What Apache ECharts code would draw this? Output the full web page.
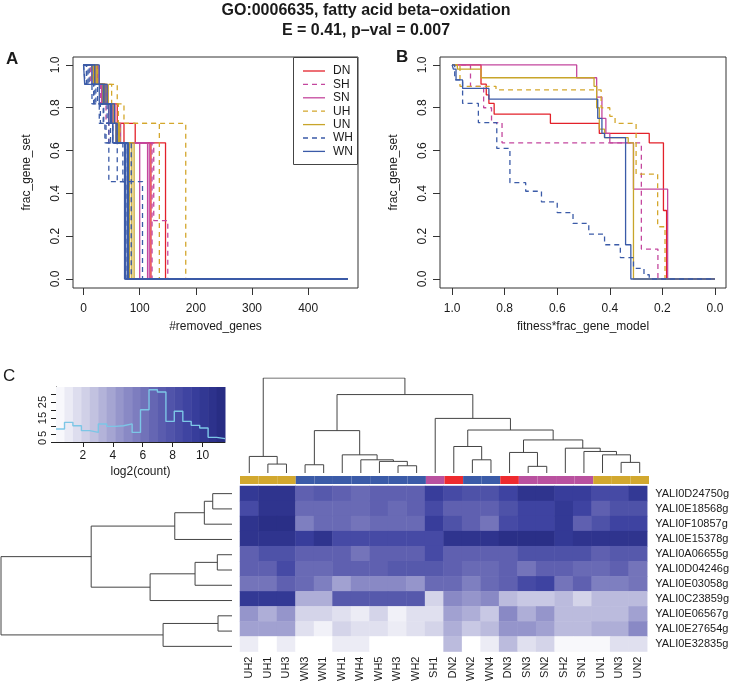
<!DOCTYPE html>
<html>
<head>
<meta charset="utf-8">
<script src="https://cdn.jsdelivr.net/npm/echarts@6/dist/echarts.min.js"></script>
<style>
  html, body { margin: 0; padding: 0; background: #fff; }
  #chart { width: 732px; height: 684px; }
</style>
</head>
<body>
<div id="chart"></div>
<script>
// --- panel A: #removed_genes vs frac_gene_set, one step line per replicate ---
const aDN = [
  [[0,1],[20,0.909],[35,0.818],[55,0.727],[92,0.636],[146,0],[470,0]],
  [[0,1],[25,0.909],[40,0.818],[60,0.727],[72,0.636],[120,0],[470,0]]
];
const aSH = [
  [[0,1],[12,0.909],[30,0.818],[40,0.727],[45,0.636],[125,0.273],[150,0],[470,0]],
  [[0,1],[18,0.909],[35,0.818],[50,0.727],[60,0.636],[122,0],[470,0]]
];
const aSN = [
  [[0,1],[15,0.909],[32,0.818],[45,0.727],[58,0.636],[100,0],[470,0]],
  [[0,1],[22,0.909],[38,0.818],[52,0.727],[62,0.636],[114,0],[470,0]],
  [[0,1],[26,0.909],[42,0.818],[56,0.727],[66,0.636],[117,0],[470,0]]
];
const aUH = [
  [[0,1],[25,0.909],[60,0.818],[72,0.727],[182,0],[470,0]],
  [[0,1],[20,0.909],[50,0.818],[62,0.727],[135,0],[470,0]],
  [[0,1],[15,0.909],[40,0.818],[55,0.727],[65,0.636],[85,0],[470,0]]
];
const aUN = [
  [[0,1],[22,0.909],[38,0.818],[50,0.727],[62,0.636],[82,0],[470,0]],
  [[0,1],[18,0.909],[34,0.818],[48,0.727],[58,0.636],[86,0],[470,0]],
  [[0,1],[24,0.909],[44,0.818],[54,0.727],[64,0.636],[90,0],[470,0]]
];
const aWH = [
  [[0,1],[5,0.909],[18,0.818],[30,0.727],[38,0.636],[45,0.455],[75,0],[470,0]],
  [[0,1],[8,0.909],[22,0.818],[35,0.727],[45,0.636],[60,0.455],[80,0],[470,0]],
  [[0,1],[3,0.909],[15,0.818],[28,0.727],[40,0.636],[78,0],[470,0]],
  [[0,1],[10,0.909],[25,0.818],[42,0.727],[52,0.636],[85,0],[470,0]],
  [[0,1],[6,0.909],[20,0.818],[36,0.727],[48,0.636],[70,0.455],[105,0],[470,0]]
];
const aWN = [
  [[0,1],[2,0.909],[28,0.818],[45,0.727],[52,0.636],[73,0],[470,0]],
  [[0,1],[28,0.909],[42,0.818],[55,0.727],[60,0.636],[75,0],[470,0]],
  [[0,1],[15,0.909],[35,0.818],[48,0.727],[52,0.636],[78,0],[470,0]],
  [[0,1],[20,0.909],[38,0.818],[50,0.727],[58,0.636],[80,0],[470,0]]
];

// --- panel B: fitness*frac_gene_model vs frac_gene_set ---
const bDN = [[1,1],[0.89,0.91],[0.87,0.86],[0.86,0.82],[0.84,0.77],[0.626,0.727],[0.44,0.68],[0.25,0.636],[0.196,0.32],[0.184,0],[0,0]];
const bSH = [[1,1],[0.93,0.9],[0.88,0.8],[0.85,0.73],[0.81,0.636],[0.28,0.14],[0.217,0],[0,0]];
const bSN = [[1,1],[0.526,0.94],[0.45,0.85],[0.43,0.75],[0.415,0.68],[0.40,0.636],[0.31,0.42],[0.18,0],[0,0]];
const bUH = [[1,1],[0.97,0.9],[0.833,0.883],[0.433,0.8],[0.40,0.76],[0.38,0.727],[0.30,0.49],[0.218,0.244],[0.19,0],[0,0]];
const bUN = [[1,1],[0.98,0.98],[0.89,0.94],[0.46,0.9],[0.45,0.8],[0.44,0.7],[0.42,0.66],[0.33,0.636],[0.31,0],[0,0]];
const bWH = [[1,1],[0.99,0.93],[0.96,0.82],[0.90,0.73],[0.83,0.61],[0.78,0.45],[0.72,0.41],[0.66,0.36],[0.60,0.31],[0.54,0.26],[0.48,0.21],[0.42,0.16],[0.36,0.10],[0.31,0.05],[0.27,0.02],[0.25,0],[0,0]];
const bWN = [[1,1],[0.995,0.98],[0.985,0.93],[0.96,0.89],[0.86,0.84],[0.446,0.75],[0.43,0.68],[0.42,0.66],[0.34,0.16],[0.32,0],[0,0]];

const conditions = ['DN', 'SH', 'SN', 'UH', 'UN', 'WH', 'WN'];
const linesA = { DN: aDN, SH: aSH, SN: aSN, UH: aUH, UN: aUN, WH: aWH, WN: aWN };
const linesB = { DN: bDN, SH: bSH, SN: bSN, UH: bUH, UN: bUN, WH: bWH, WN: bWN };
const fracTicks = [0, 0.2, 0.4, 0.6, 0.8, 1.0];
const removedTicks = [0, 100, 200, 300, 400];

// --- panel C: heatmap ---
const colNames = ['UH2','UH1','UH3','WN3','WN1','WH1','WH4','WH5','WH3','WH2','SH1','DN2','WN2','WN4','DN3','SN3','SN2','SH2','SN1','UN1','UN3','UN2'];
const rowNames = ['YALI0D24750g','YALI0E18568g','YALI0F10857g','YALI0E15378g','YALI0A06655g','YALI0D04246g','YALI0E03058g','YALI0C23859g','YALI0E06567g','YALI0E27654g','YALI0E32835g'];
const heatValues = [
  [10,10.5,10.5,7,7.5,7,6.5,7,7,7,9.5,8.5,8,8,9,10.5,10.5,9.5,9.5,8.5,8.5,10],
  [8.5,10.5,10.5,6.5,6.5,6.5,6.5,7,6.5,7,8.5,7,7,7,8,9,9,10,9,7,8,8],
  [10.5,11,11,5.5,6.5,6.5,6,6.5,6.5,6.5,9.5,8,7,6,8.5,9,9,10,7,8,9,9],
  [10.5,10.5,10.5,9.5,10.5,8.5,8.5,8.5,8.5,8.5,8.5,10.5,10.5,10.5,11,11,11,10,10.5,10.5,10.5,10.5],
  [7,8,8,7,7,7,6,7,7,7,8.5,7,7,7,7,8,8,8,8,7,7.5,7.5],
  [7,7,8.5,6.5,6.5,7,7,7,7.5,7.5,7.5,7,6.5,6.5,7,6,7,7,6.5,6.5,7,6],
  [6,6,7,6.5,5.5,4,5,5,5,4.5,6.5,6.5,5.5,6.5,7,8.5,9,6,7,5.5,5.5,6],
  [10,10,10,3.5,3.5,7.5,7.5,7.5,7.5,7.5,2,5,4.5,5,3,2.5,2.5,3,2,3,3,3],
  [4.5,3.5,4.5,2,2,1.5,1,2,0.8,1.5,1.5,4,3.5,2.5,5,3.5,4.5,3,3,3,3,4],
  [4,4,4,1.5,0.8,2,1.5,1.5,1,1.5,2,3.5,2.5,3,4.5,4.5,4,3,3,3.5,3.5,5],
  [1,0.2,1,0.2,0.2,1,1,0.2,0.2,0.2,0.2,3,0.2,1,3,1.5,2,0.5,0.5,0.5,1.5,1.5]
];
// dendrogram merges: [a, b, height]; a/b >= 0 is a leaf, negative is -(merge index + 1)
const colMerges = [
  [1,2,9],[0,-1,16.7],[3,4,8.3],[8,9,7.3],[7,-4,11.7],[6,-5,13.3],[5,-6,18.3],[-3,-7,42.7],
  [12,13,13.3],[11,-9,26.7],[15,16,6.7],[14,-11,20.7],[20,21,10.7],[19,-13,18.3],[18,-14,21.7],
  [17,-15,25],[-12,-16,33.3],[-10,-17,43.3],[10,-18,55],[-8,-19,79],[-2,-20,95.7]
];
const rowMerges = [
  [0,1,19.3],[2,-1,27.7],[3,-2,57.3],[4,5,14.7],[6,-4,37],[7,-5,82],[-3,-6,141],
  [8,9,14],[10,-8,69],[-7,-9,231.3]
];
// colour key: bin breaks (log2 count) and histogram counts
const keyBreaks = [0.2,0.77,1.33,1.9,2.46,3.03,3.59,4.16,4.72,5.29,5.85,6.42,6.98,7.55,8.11,8.68,9.24,9.81,10.37,10.94,11.5];
const keyCounts = [8.1,12.3,10.2,7.1,6.0,11.3,9.8,10.2,11.3,6.0,20.2,32.7,31.3,12.9,19.2,12.9,10.4,8.75,2.9,2.1];
const keyXTicks = [2, 4, 6, 8, 10];
const keyYTicks = [0, 5, 10, 15, 20, 25, 30];
const keyYLabels = [0, 5, 15, 25];

// --- styles ---
const FONT = '"Liberation Sans", Arial, Helvetica, sans-serif';
const INK = '#1a1a1a';
const condColor = { DN: '#e3212a', SH: '#c4479e', SN: '#c4479e', UH: '#d4a72c', UN: '#c8a52a', WH: '#3b5ba8', WN: '#3b5ba8' };
const groupColor = { U: '#d2a82f', W: '#3b5ba8', S: '#b9519f', D: '#ee2a2f' };
const heatStops = ['#ffffff', '#c9c9e4', '#8f8fc8', '#5f60b0', '#3a409f', '#262a80'];
const heatMin = 0.2, heatMax = 11.5;
const isDashed = c => c[1] === 'H';

function dendroSegments(merges) {
  const pos = [];
  const node = k => (k >= 0 ? [k + 0.5, 0] : pos[-k - 1]);
  const segs = [];
  merges.forEach(([a, b, h]) => {
    const pa = node(a), pb = node(b);
    segs.push([[pa[0], pa[1]], [pa[0], h], [pb[0], h], [pb[0], pb[1]]]);
    pos.push([(pa[0] + pb[0]) / 2, h]);
  });
  return segs;
}

const fracAxis = (gi) => ({
  type: 'value', gridIndex: gi, min: -0.042, max: 1.037,
  name: 'frac_gene_set', nameLocation: 'middle', nameGap: 40,
  nameTextStyle: { fontFamily: FONT, fontSize: 12, color: INK },
  axisLine: { show: false, onZero: false }, splitLine: { show: false },
  axisTick: { show: true, inside: false, length: 7, customValues: fracTicks, lineStyle: { color: '#333' } },
  axisLabel: { customValues: fracTicks, rotate: 90, margin: 11, fontFamily: FONT, fontSize: 12, color: INK,
               formatter: v => v.toFixed(1) }
});

const series = [];
conditions.forEach(c => {
  linesA[c].forEach(pts => series.push({
    type: 'line', name: c, xAxisIndex: 0, yAxisIndex: 0, data: pts, step: 'end',
    symbol: 'none', silent: true, color: condColor[c],
    lineStyle: { width: 1.3, color: condColor[c], type: isDashed(c) ? [5, 4] : 'solid' }
  }));
});
conditions.forEach(c => {
  series.push({
    type: 'line', name: c, xAxisIndex: 1, yAxisIndex: 1, data: linesB[c], step: 'end',
    symbol: 'none', silent: true, color: condColor[c],
    lineStyle: { width: 1.3, color: condColor[c], type: isDashed(c) ? [5, 4] : 'solid' }
  });
});

// colour key bins + histogram
series.push({
  type: 'custom', xAxisIndex: 2, yAxisIndex: 2, silent: true,
  data: keyBreaks.slice(0, -1).map((b, i) => [b, keyBreaks[i + 1]]),
  renderItem: (params, api) => {
    const p0 = api.coord([api.value(0), 34.4]);
    const p1 = api.coord([api.value(1), 0]);
    const mid = (api.value(0) + api.value(1)) / 2;
    const t = (mid - heatMin) / (heatMax - heatMin);
    return { type: 'rect', shape: { x: p0[0], y: p0[1], width: p1[0] - p0[0] + 0.5, height: p1[1] - p0[1] },
             style: { fill: echarts.color.lerp(t, heatStops) } };
  }
});
series.push({
  type: 'line', xAxisIndex: 2, yAxisIndex: 2, step: 'end', symbol: 'none', silent: true,
  data: keyBreaks.map((b, i) => [b, keyCounts[Math.min(i, keyCounts.length - 1)]]),
  lineStyle: { color: '#7cc6e6', width: 1.4 }
});

// dendrograms
series.push({
  type: 'lines', coordinateSystem: 'cartesian2d', xAxisIndex: 3, yAxisIndex: 3, polyline: true, silent: true,
  data: dendroSegments(colMerges).map(s => ({ coords: s })),
  lineStyle: { color: '#444', width: 1, opacity: 1 }
});
series.push({
  type: 'lines', coordinateSystem: 'cartesian2d', xAxisIndex: 4, yAxisIndex: 4, polyline: true, silent: true,
  data: dendroSegments(rowMerges).map(s => ({ coords: s.map(([p, h]) => [h, p]) })),
  lineStyle: { color: '#444', width: 1, opacity: 1 }
});

// heatmap
const heatIndex = series.length;
const heatData = [];
heatValues.forEach((row, r) => row.forEach((v, c) => heatData.push([c, r, v])));
series.push({
  type: 'heatmap', xAxisIndex: 5, yAxisIndex: 5, data: heatData, silent: true,
  emphasis: { disabled: true }
});

// column side colour bar
series.push({
  type: 'bar', xAxisIndex: 6, yAxisIndex: 6, barWidth: '100%', silent: true,
  data: colNames.map(n => ({ value: 1, itemStyle: { color: groupColor[n[0]] } }))
});

// legend of panel A (R-style boxed legend)
const legendGraphics = [
  { type: 'rect', shape: { x: 293.5, y: 57.5, width: 64, height: 107 }, style: { fill: '#fff', stroke: '#444', lineWidth: 1 }, silent: true, z: 50 }
];
conditions.forEach((c, i) => {
  const y = 71 + i * 13.4;
  legendGraphics.push({ type: 'line', shape: { x1: 303, y1: y, x2: 325, y2: y }, silent: true, z: 51,
    style: { stroke: condColor[c], lineWidth: 1.3, lineDash: isDashed(c) ? [5, 4] : null } });
  legendGraphics.push({ type: 'text', x: 333, y: y, silent: true, z: 51,
    style: { text: c, fontFamily: FONT, fontSize: 12, fill: INK, verticalAlign: 'middle' } });
});

const hidden = (gi, extra) => Object.assign({ gridIndex: gi, show: false, splitLine: { show: false } }, extra);

const option = {
  animation: false,
  backgroundColor: '#fff',
  textStyle: { fontFamily: FONT },
  title: [
    { text: 'GO:0006635, fatty acid beta\u2013oxidation', left: 'center', top: 3, padding: 0,
      textStyle: { fontFamily: FONT, fontSize: 16, fontWeight: 'bold', color: INK } },
    { text: 'E = 0.41, p\u2013val = 0.007', left: 'center', top: 23, padding: 0,
      textStyle: { fontFamily: FONT, fontSize: 16, fontWeight: 'bold', color: INK } },
    { text: 'A', left: 6, top: 51, padding: 0, textStyle: { fontFamily: FONT, fontSize: 17, fontWeight: 'bold', color: INK } },
    { text: 'B', left: 396, top: 49, padding: 0, textStyle: { fontFamily: FONT, fontSize: 17, fontWeight: 'bold', color: INK } },
    { text: 'C', left: 3, top: 368, padding: 0, textStyle: { fontFamily: FONT, fontSize: 17, fontWeight: 'normal', color: INK } }
  ],
  graphic: legendGraphics,
  grid: [
    { left: 73, top: 57, width: 285, height: 231, show: true, borderColor: '#333', borderWidth: 1 },
    { left: 440, top: 57, width: 286, height: 231, show: true, borderColor: '#333', borderWidth: 1 },
    { left: 56, top: 387, width: 169, height: 55 },
    { left: 240, top: 378, width: 409, height: 95 },
    { left: 1, top: 486, width: 231, height: 168 },
    { left: 240, top: 486, width: 409, height: 168 },
    { left: 240, top: 476, width: 409, height: 8 }
  ],
  xAxis: [
    { type: 'value', gridIndex: 0, min: -18.8, max: 488.8,
      name: '#removed_genes', nameLocation: 'middle', nameGap: 33,
      nameTextStyle: { fontFamily: FONT, fontSize: 12, color: INK },
      axisLine: { show: false, onZero: false }, splitLine: { show: false },
      axisTick: { show: true, length: 7, customValues: removedTicks, lineStyle: { color: '#333' } },
      axisLabel: { customValues: removedTicks, margin: 15, fontFamily: FONT, fontSize: 12, color: INK } },
    { type: 'value', gridIndex: 1, min: -0.042, max: 1.046, inverse: true,
      name: 'fitness*frac_gene_model', nameLocation: 'middle', nameGap: 33,
      nameTextStyle: { fontFamily: FONT, fontSize: 12, color: INK },
      axisLine: { show: false, onZero: false }, splitLine: { show: false },
      axisTick: { show: true, length: 7, customValues: fracTicks, lineStyle: { color: '#333' } },
      axisLabel: { customValues: fracTicks, margin: 15, fontFamily: FONT, fontSize: 12, color: INK,
                   formatter: v => v.toFixed(1) } },
    { type: 'value', gridIndex: 2, min: heatMin, max: heatMax,
      name: 'log2(count)', nameLocation: 'middle', nameGap: 24,
      nameTextStyle: { fontFamily: FONT, fontSize: 12, color: INK },
      axisLine: { show: true, onZero: false, lineStyle: { color: '#222' } }, splitLine: { show: false },
      axisTick: { show: true, length: 5, customValues: keyXTicks, lineStyle: { color: '#222' } },
      axisLabel: { customValues: keyXTicks, margin: 8, fontFamily: FONT, fontSize: 12, color: INK } },
    hidden(3, { type: 'value', min: 0, max: colNames.length }),
    hidden(4, { type: 'value', min: 0, max: 231.3, inverse: true }),
    { type: 'category', gridIndex: 5, data: colNames, position: 'bottom',
      axisLine: { show: false }, axisTick: { show: false }, splitLine: { show: false },
      axisLabel: { rotate: 90, margin: 5, interval: 0, fontFamily: FONT, fontSize: 11, color: INK } },
    hidden(6, { type: 'category', data: colNames })
  ],
  yAxis: [
    fracAxis(0),
    fracAxis(1),
    { type: 'value', gridIndex: 2, min: 0, max: 34.4,
      axisLine: { show: true, onZero: false, lineStyle: { color: '#222' } }, splitLine: { show: false },
      axisTick: { show: true, length: 5, customValues: keyYTicks, lineStyle: { color: '#222' } },
      axisLabel: { customValues: keyYLabels, rotate: 90, margin: 8, fontFamily: FONT, fontSize: 11, color: INK } },
    hidden(3, { type: 'value', min: 0, max: 95.7 }),
    hidden(4, { type: 'value', min: 0, max: rowNames.length, inverse: true }),
    { type: 'category', gridIndex: 5, data: rowNames, position: 'right', inverse: true,
      axisLine: { show: false }, axisTick: { show: false }, splitLine: { show: false },
      axisLabel: { margin: 8, interval: 0, fontFamily: FONT, fontSize: 11, color: INK } },
    hidden(6, { type: 'value', min: 0, max: 1 })
  ],
  visualMap: {
    type: 'continuous', show: false, seriesIndex: heatIndex, dimension: 2,
    min: heatMin, max: heatMax, inRange: { color: heatStops }
  },
  series: series
};

const chart = echarts.init(document.getElementById('chart'));
chart.setOption(option);
</script>
</body>
</html>
